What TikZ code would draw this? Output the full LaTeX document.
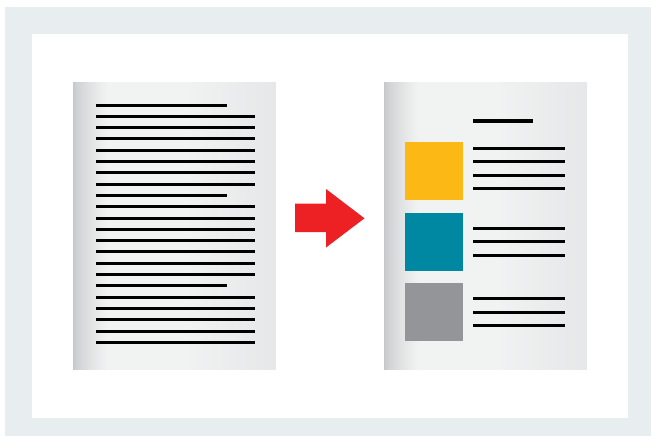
\documentclass[tikz,border=0pt]{standalone}
\usetikzlibrary{calc}
\definecolor{framegrey}{HTML}{E8EDF0}
\definecolor{pagedark}{HTML}{C6C7C9}
\definecolor{pagelight}{HTML}{F1F2F2}
\definecolor{pageright}{HTML}{E6E7E8}
\definecolor{boxyellow}{HTML}{FCB814}
\definecolor{boxteal}{HTML}{0088A3}
\definecolor{boxgrey}{HTML}{939598}
\definecolor{arrowred}{HTML}{ED2024}
\tikzset{
	text line/.style = {line width=0.06cm, black},
	title line/.style = {line width=0.095cm, black}
}
% a paper sheet with left corner at x=#1, from y=82 to y=370, darker at its left edge
\newcommand{\paperpage}[1]{
	\fill[pagelight] (#1,82) rectangle (#1+203,370);
	\foreach \s in {0,...,34} {
		\pgfmathtruncatemacro\mix{100-100*(\s/34)^0.7}
		\fill[pagedark!\mix!pagelight] (#1+\s,82) rectangle (#1+\s+1.2,370);
	}
	\foreach \s in {0,...,30} {
		\pgfmathtruncatemacro\mix{100*\s/30}
		\fill[pageright!\mix!pagelight] (#1+110+3*\s,82) rectangle (#1+110+3*\s+3.2,370);
	}
}

\begin{document}
\begin{tikzpicture}[x=0.02cm,y=-0.02cm]
            \useasboundingbox (0,0) rectangle (651,436);
            \fill[framegrey] (5,7) rectangle (651,436);
            \fill[white] (32,34) rectangle (628,418);
            % plain text page
            \paperpage{73}
            \foreach \i in {0,...,21} {
                \pgfmathsetmacro\xend{mod(\i,8)==0 ? 227 : 255}
                \draw[text line] (96,105+11.3*\i) -- (\xend,105+11.3*\i);
            }
            % arrow
            \coordinate (tip) at (364.5,218.3);
            \fill[arrowred] (295,203.5) -- (326,203.5) -- (326,189) -- (tip)
                -- (326,247.5) -- (326,232) -- (295,232) -- cycle;
            % laid out page
            \paperpage{384}
            \draw[title line] (473,121) -- (533,121);
            \fill[boxyellow] (405,142) rectangle (463,200);
            \fill[boxteal] (405,213) rectangle (463,271);
            \fill[boxgrey] (405,283) rectangle (463,341);
            \foreach \y in {148,161.5,175,188.5,228,241.5,255,298.5,312,325.5}
                \draw[text line] (473,\y) -- (565,\y);
\end{tikzpicture}
\end{document}
